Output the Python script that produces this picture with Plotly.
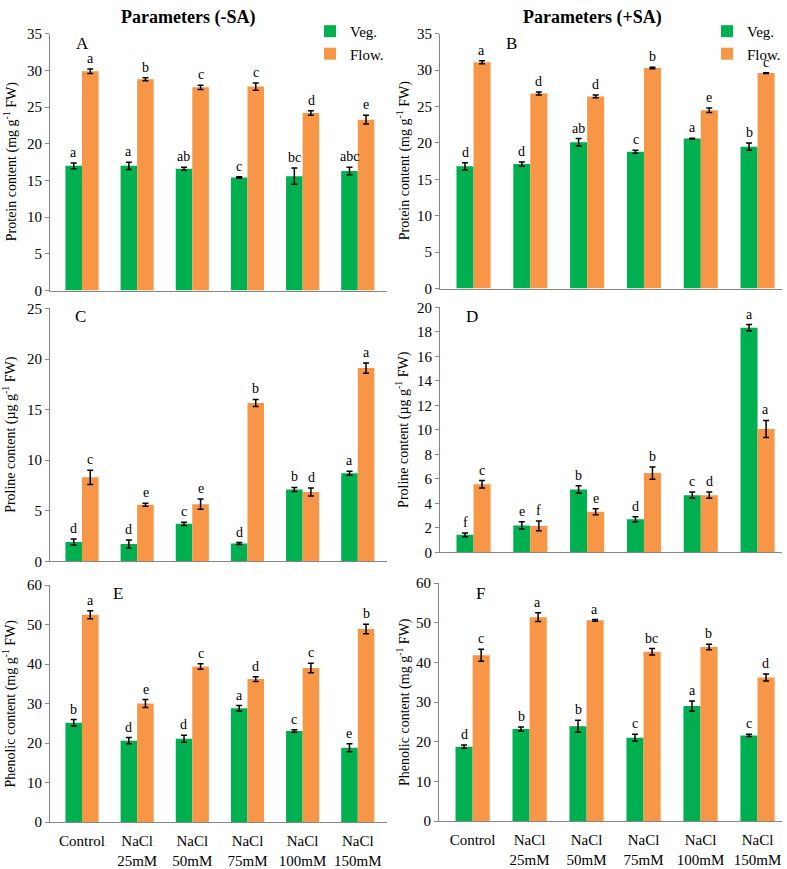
import plotly.graph_objects as go
from plotly.subplots import make_subplots

categories = ["Control", "NaCl<br>25mM", "NaCl<br>50mM", "NaCl<br>75mM", "NaCl<br>100mM", "NaCl<br>150mM"]

# A - protein (-SA)
protein_nosa_veg = [17.0, 17.0, 16.6, 15.4, 15.6, 16.3]
protein_nosa_veg_err = [0.4, 0.5, 0.2, 0.1, 1.1, 0.5]
protein_nosa_flow = [29.9, 28.8, 27.7, 27.8, 24.2, 23.3]
protein_nosa_flow_err = [0.3, 0.2, 0.3, 0.5, 0.3, 0.6]
protein_nosa_veg_lbl = ["a", "a", "ab", "c", "bc", "abc"]
protein_nosa_flow_lbl = ["a", "b", "c", "c", "d", "e"]

# B - protein (+SA)
protein_sa_veg = [16.8, 17.1, 20.1, 18.8, 20.6, 19.5]
protein_sa_veg_err = [0.5, 0.3, 0.5, 0.2, 0.05, 0.5]
protein_sa_flow = [31.1, 26.8, 26.4, 30.3, 24.5, 29.6]
protein_sa_flow_err = [0.2, 0.2, 0.2, 0.1, 0.3, 0.05]
protein_sa_veg_lbl = ["d", "d", "ab", "c", "a", "b"]
protein_sa_flow_lbl = ["a", "d", "d", "b", "e", "c"]

# C - proline (-SA)
proline_nosa_veg = [1.9, 1.7, 3.7, 1.75, 7.1, 8.7]
proline_nosa_veg_err = [0.3, 0.4, 0.15, 0.1, 0.2, 0.2]
proline_nosa_flow = [8.3, 5.6, 5.65, 15.65, 6.85, 19.1]
proline_nosa_flow_err = [0.7, 0.15, 0.5, 0.35, 0.4, 0.5]
proline_nosa_veg_lbl = ["d", "d", "c", "d", "b", "a"]
proline_nosa_flow_lbl = ["c", "e", "e", "b", "d", "a"]

# D - proline (+SA)
proline_sa_veg = [1.43, 2.2, 5.13, 2.7, 4.67, 18.35]
proline_sa_veg_err = [0.15, 0.3, 0.3, 0.2, 0.25, 0.25]
proline_sa_flow = [5.56, 2.16, 3.32, 6.48, 4.67, 10.07]
proline_sa_flow_err = [0.3, 0.4, 0.25, 0.5, 0.25, 0.7]
proline_sa_veg_lbl = ["f", "e", "b", "d", "c", "a"]
proline_sa_flow_lbl = ["c", "f", "e", "b", "d", "a"]

# E - phenolic (-SA)
phenolic_nosa_veg = [25.15, 20.6, 21.1, 28.8, 23.05, 18.8]
phenolic_nosa_veg_err = [0.8, 0.8, 0.9, 0.7, 0.3, 1.0]
phenolic_nosa_flow = [52.5, 30.0, 39.4, 36.2, 39.0, 48.9]
phenolic_nosa_flow_err = [1.0, 1.0, 0.7, 0.6, 1.2, 1.2]
phenolic_nosa_veg_lbl = ["b", "d", "d", "a", "c", "e"]
phenolic_nosa_flow_lbl = ["a", "e", "c", "d", "c", "b"]

# F - phenolic (+SA)
phenolic_sa_veg = [18.75, 23.2, 23.9, 21.0, 29.0, 21.6]
phenolic_sa_veg_err = [0.4, 0.5, 1.5, 0.9, 1.3, 0.3]
phenolic_sa_flow = [41.8, 51.4, 50.6, 42.7, 43.9, 36.2]
phenolic_sa_flow_err = [1.5, 1.1, 0.2, 0.8, 0.7, 0.9]
phenolic_sa_veg_lbl = ["d", "b", "b", "c", "a", "c"]
phenolic_sa_flow_lbl = ["c", "a", "a", "bc", "b", "d"]

W, H = 787, 869
GREEN = "#00B050"
ORANGE = "#F79646"
FONT = "Liberation Serif"
AXIS_GRAY = "#868686"


def px_x(p):
    return p / W


def px_y(p):
    # small vertical correction, the rendered page came out a bit squeezed
    return 1 - ((p - 7) / 0.983) / H


# (row, col, letter, veg, veg_err, flow, flow_err, veg_lbl, flow_lbl, ymax, dtick, ytitle, x_px, y_px)
panels = [
    (1, 1, "A", protein_nosa_veg, protein_nosa_veg_err, protein_nosa_flow, protein_nosa_flow_err,
     protein_nosa_veg_lbl, protein_nosa_flow_lbl, 35, 5, "Protein content (mg g<sup>-1</sup> FW)",
     (50, 387), (33, 292)),
    (1, 2, "B", protein_sa_veg, protein_sa_veg_err, protein_sa_flow, protein_sa_flow_err,
     protein_sa_veg_lbl, protein_sa_flow_lbl, 35, 5, "Protein content (mg g<sup>-1</sup> FW)",
     (440, 782), (33, 290)),
    (2, 1, "C", proline_nosa_veg, proline_nosa_veg_err, proline_nosa_flow, proline_nosa_flow_err,
     proline_nosa_veg_lbl, proline_nosa_flow_lbl, 25, 5, "Proline content (µg g<sup>-1</sup> FW)",
     (50, 387), (310, 565)),
    (2, 2, "D", proline_sa_veg, proline_sa_veg_err, proline_sa_flow, proline_sa_flow_err,
     proline_sa_veg_lbl, proline_sa_flow_lbl, 20, 2, "Proline content (µg g<sup>-1</sup> FW)",
     (440, 782), (309, 556)),
    (3, 1, "E", phenolic_nosa_veg, phenolic_nosa_veg_err, phenolic_nosa_flow, phenolic_nosa_flow_err,
     phenolic_nosa_veg_lbl, phenolic_nosa_flow_lbl, 60, 10, "Phenolic content (mg g<sup>-1</sup> FW)",
     (50, 387), (589, 828)),
    (3, 2, "F", phenolic_sa_veg, phenolic_sa_veg_err, phenolic_sa_flow, phenolic_sa_flow_err,
     phenolic_sa_veg_lbl, phenolic_sa_flow_lbl, 60, 10, "Phenolic content (mg g<sup>-1</sup> FW)",
     (439, 782), (587, 827)),
]

letter_pos = {"A": (82, 43), "B": (511, 43), "C": (80, 318), "D": (472, 318), "E": (118, 598), "F": (480, 597)}
ytitle_x = {1: 10, 2: 403}

fig = make_subplots(rows=3, cols=2)
annotations = []

for i, (r, c, letter, veg, veg_err, flow, flow_err, veg_lbl, flow_lbl, ymax, dtick, ytitle, xp, yp) in enumerate(panels):
    legend_name = None
    show = False
    if letter == "A":
        legend_name, show = "legend", True
    elif letter == "B":
        legend_name, show = "legend2", True
    for name, vals, errs, color in (("Veg.", veg, veg_err, GREEN), ("Flow.", flow, flow_err, ORANGE)):
        kw = dict(legend=legend_name) if legend_name else {}
        fig.add_trace(go.Bar(
            x=categories, y=vals, name=name, marker_color=color, marker_line_width=0,
            error_y=dict(type="data", array=errs, color="black", thickness=1.5, width=3),
            showlegend=show, **kw,
        ), row=r, col=c)

    ax = "" if i == 0 else str(i + 1)
    for j, cat in enumerate(categories):
        for vals, errs, lbls, shift in ((veg, veg_err, veg_lbl, -8.4), (flow, flow_err, flow_lbl, 8.4)):
            annotations.append(dict(
                x=cat, y=vals[j] + errs[j], xref="x" + ax, yref="y" + ax, text=lbls[j],
                showarrow=False, xshift=shift, yshift=1, xanchor="center", yanchor="bottom",
                font=dict(family=FONT, size=14, color="black"),
            ))

    lx, ly = letter_pos[letter]
    annotations.append(dict(x=px_x(lx), y=px_y(ly), xref="paper", yref="paper", text=letter,
                            showarrow=False, xanchor="center", yanchor="middle",
                            font=dict(family=FONT, size=17, color="black")))
    annotations.append(dict(x=px_x(ytitle_x[c]), y=px_y((yp[0] + yp[1]) / 2), xref="paper", yref="paper",
                            text=ytitle, textangle=-90, showarrow=False, xanchor="center", yanchor="middle",
                            font=dict(family=FONT, size=14, color="black")))

    xr = [-0.58, 5.53] if c == 1 else [-0.59, 5.43]
    fig.update_xaxes(domain=[px_x(xp[0]), px_x(xp[1])], range=xr, showline=True, linecolor=AXIS_GRAY,
                     linewidth=1, ticks="outside", ticklen=5, tickcolor="rgba(0,0,0,0)",
                     showgrid=False, showticklabels=(r == 3),
                     tickfont=dict(family=FONT, size=15, color="black"), row=r, col=c)
    fig.update_yaxes(domain=[px_y(yp[1]), px_y(yp[0])], range=[0, ymax], dtick=dtick, showline=True,
                     linecolor=AXIS_GRAY, linewidth=1, ticks="outside", ticklen=4, tickcolor=AXIS_GRAY,
                     showgrid=False, zeroline=False, tickfont=dict(family=FONT, size=15, color="black"),
                     row=r, col=c)

annotations.append(dict(x=px_x(188), y=1, xref="paper", yref="paper", text="<b>Parameters (-SA)</b>",
                        showarrow=False, xanchor="center", yanchor="top", yshift=3,
                        font=dict(family=FONT, size=18, color="black")))
annotations.append(dict(x=px_x(592), y=1, xref="paper", yref="paper", text="<b>Parameters (+SA)</b>",
                        showarrow=False, xanchor="center", yanchor="top", yshift=3,
                        font=dict(family=FONT, size=18, color="black")))

legend_style = dict(font=dict(family=FONT, size=15, color="black"), bgcolor="rgba(0,0,0,0)",
                    itemwidth=30, tracegroupgap=0, xanchor="left", yanchor="top")

fig.update_layout(
    width=W, height=H, margin=dict(l=0, r=0, t=0, b=0),
    plot_bgcolor="white", paper_bgcolor="white",
    barmode="group", bargap=0.4, bargroupgap=0,
    annotations=annotations,
    legend=dict(x=px_x(310), y=px_y(14), **legend_style),
    legend2=dict(x=px_x(707), y=px_y(14), **legend_style),
)

# page body has a default 8px margin, drop it so the figure fills the window
fig.write_html("out.html", config={"displayModeBar": False},
               post_script="document.body.style.margin='0px';")
